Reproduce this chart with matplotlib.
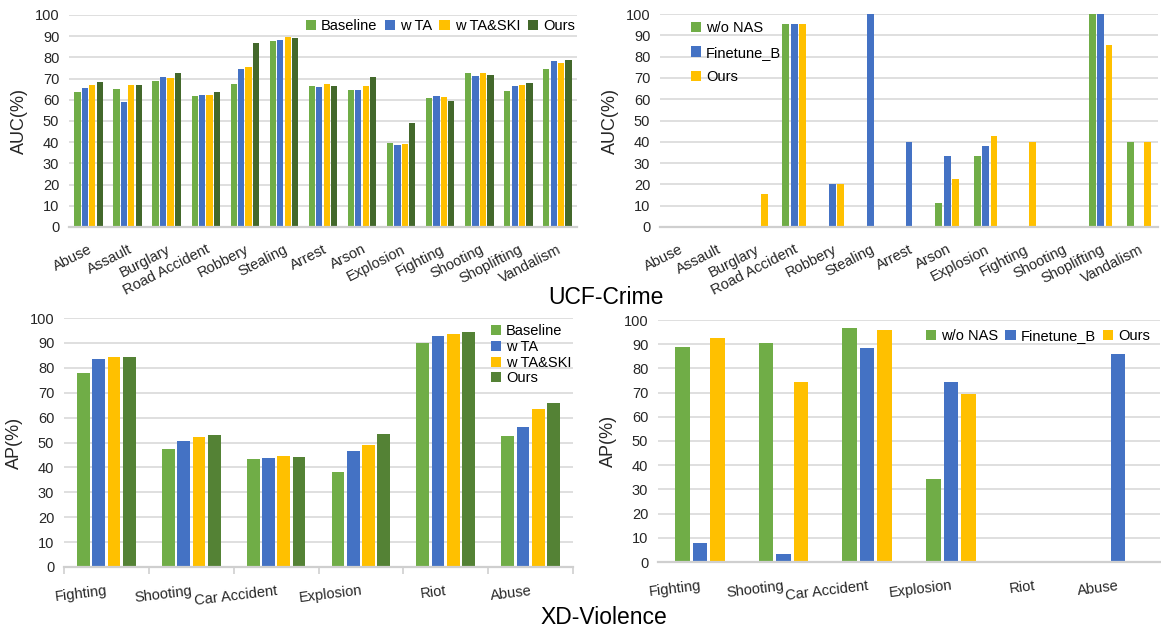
import numpy as np
import matplotlib
matplotlib.use("Agg")
import matplotlib.pyplot as plt

plt.rcParams['font.family'] = ['Liberation Sans', 'DejaVu Sans']

nan = np.nan

# UCF-Crime, ablation (top left)
ucf_cats = ['Abuse', 'Assault', 'Burglary', 'Road Accident', 'Robbery', 'Stealing', 'Arrest',
            'Arson', 'Explosion', 'Fighting', 'Shooting', 'Shoplifting', 'Vandalism']
ucf_baseline = [63.8, 65.2, 69.0, 61.9, 67.6, 87.9, 66.6, 64.7, 39.7, 60.8, 72.6, 64.3, 74.5]
ucf_wta = [65.7, 59.1, 70.9, 62.4, 74.6, 88.3, 66.1, 64.7, 38.6, 61.7, 71.0, 66.5, 78.3]
ucf_wtaski = [66.9, 66.9, 70.4, 62.4, 75.6, 89.8, 67.6, 66.6, 39.1, 61.3, 72.6, 66.9, 77.3]
ucf_ours = [68.5, 66.9, 72.8, 63.8, 86.9, 89.3, 66.6, 70.9, 49.0, 59.4, 71.7, 67.9, 78.7]

# UCF-Crime, NAS (top right)
ucf_wonas = [nan, nan, nan, 95.4, nan, nan, nan, 11.1, 33.3, nan, nan, 100.0, 40.0]
ucf_ftb = [nan, nan, nan, 95.4, 20.1, 100.0, 40.0, 33.3, 38.0, nan, nan, 100.0, nan]
ucf_ours_nas = [nan, nan, 15.4, 95.4, 20.1, nan, nan, 22.4, 42.7, 40.0, nan, 85.6, 40.0]

# XD-Violence, ablation (bottom left)
xd_cats = ['Fighting', 'Shooting', 'Car Accident', 'Explosion', 'Riot', 'Abuse']
xd_baseline = [77.8, 47.3, 43.2, 38.0, 89.8, 52.5]
xd_wta = [83.4, 50.5, 43.6, 46.5, 92.6, 56.1]
xd_wtaski = [84.2, 52.1, 44.6, 48.9, 93.4, 63.3]
xd_ours = [84.2, 52.9, 44.0, 53.3, 94.2, 65.7]

# XD-Violence, NAS (bottom right)
xd_wonas = [88.8, 90.5, 96.7, 34.2, nan, nan]
xd_ftb = [7.7, 3.2, 88.4, 74.3, nan, 85.9]
xd_ours_nas = [92.6, 74.3, 95.9, 69.4, nan, nan]

GREEN = '#70AD47'
BLUE = '#4472C4'
YELLOW = '#FFC000'
DKGREEN = '#43682B'
DKGREEN2 = '#548235'
GRID = '#D9D9D9'

W, H = 1161, 629
fig = plt.figure(figsize=(W / 100, H / 100), dpi=100)


def make_ax(l, r, t, b):
    return fig.add_axes([l / W, 1 - b / H, (r - l) / W, (b - t) / H])


def style(ax, cats, ylabel, rot, pad, boundary_ticks=False):
    ax.set_ylim(0, 100)
    ax.set_yticks(range(0, 101, 10))
    ax.set_xlim(-0.5, len(cats) - 0.5)
    ax.grid(axis='y', color=GRID, lw=1.2)
    ax.set_axisbelow(True)
    for s in ['top', 'right', 'left']:
        ax.spines[s].set_visible(False)
    ax.spines['bottom'].set_color('#CFCFCF')
    ax.spines['bottom'].set_linewidth(1.6)
    ax.tick_params(axis='y', length=0, pad=7, labelsize=10.5, colors='#262626')
    ax.set_xticks(range(len(cats)))
    ax.set_xticklabels(cats, rotation=rot, ha='right', va='top',
                       rotation_mode='anchor', fontsize=10.5, color='#262626')
    ax.tick_params(axis='x', length=0, pad=pad)
    if boundary_ticks:
        ax.set_xticks(np.arange(-0.5, len(cats), 1.0), minor=True)
        ax.tick_params(axis='x', which='minor', length=5, color='#CFCFCF', width=1.2)
    ax.set_ylabel(ylabel, fontsize=13, color='#262626', labelpad=5)


def bars(ax, series, colors, labels, width, step):
    n = len(series)
    x = np.arange(len(series[0]))
    for i, (vals, c, lab) in enumerate(zip(series, colors, labels)):
        ax.bar(x + (i - (n - 1) / 2) * step, np.array(vals, dtype=float), width,
               color=c, label=lab)


leg_kw = dict(frameon=False, fontsize=10.5, handlelength=0.7, handleheight=0.7,
              handletextpad=0.35, borderpad=0, borderaxespad=0)

# top left
ax1 = make_ax(69, 577, 15, 227)
bars(ax1, [ucf_baseline, ucf_wta, ucf_wtaski, ucf_ours],
     [GREEN, BLUE, YELLOW, DKGREEN], ['Baseline', 'w TA', 'w TA&SKI', 'Ours'], 0.16, 0.19)
style(ax1, ucf_cats, 'AUC(%)', 27, 11)
ax1.legend(loc='center left', bbox_to_anchor=(0.466, 0.948), ncol=4,
           columnspacing=0.5, **leg_kw)

# top right
ax2 = make_ax(660, 1158, 14, 227)
bars(ax2, [ucf_wonas, ucf_ftb, ucf_ours_nas], [GREEN, BLUE, YELLOW],
     ['w/o NAS', 'Finetune_B', 'Ours'], 0.18, 0.22)
style(ax2, ucf_cats, 'AUC(%)', 27, 11)
ax2.legend(loc='upper left', bbox_to_anchor=(0.062, 0.965), labelspacing=0.7, **leg_kw)

# bottom left
ax3 = make_ax(64, 573, 318, 567)
bars(ax3, [xd_baseline, xd_wta, xd_wtaski, xd_ours],
     [GREEN, BLUE, YELLOW, DKGREEN2], ['Baseline', 'w TA', 'w TA&SKI', 'Ours'], 0.15, 0.18)
style(ax3, xd_cats, 'AP(%)', 7, 12, boundary_ticks=True)
ax3.legend(loc='upper left', bbox_to_anchor=(0.838, 0.975), labelspacing=0.12, **leg_kw)

# bottom right
ax4 = make_ax(658, 1160, 320, 562)
bars(ax4, [xd_wonas, xd_ftb, xd_ours_nas], [GREEN, BLUE, YELLOW],
     ['w/o NAS', 'Finetune_B', 'Ours'], 0.175, 0.21)
style(ax4, xd_cats, 'AP(%)', 7, 12)
ax4.legend(loc='center left', bbox_to_anchor=(0.533, 0.934), ncol=3,
           columnspacing=0.5, **leg_kw)

fig.text(606 / W, 1 - 297 / H, 'UCF-Crime', fontsize=16.5, ha='center', va='center', color='#000000')
fig.text(604 / W, 1 - 617 / H, 'XD-Violence', fontsize=16.5, ha='center', va='center', color='#000000')

fig.savefig('out.png', dpi=100)
